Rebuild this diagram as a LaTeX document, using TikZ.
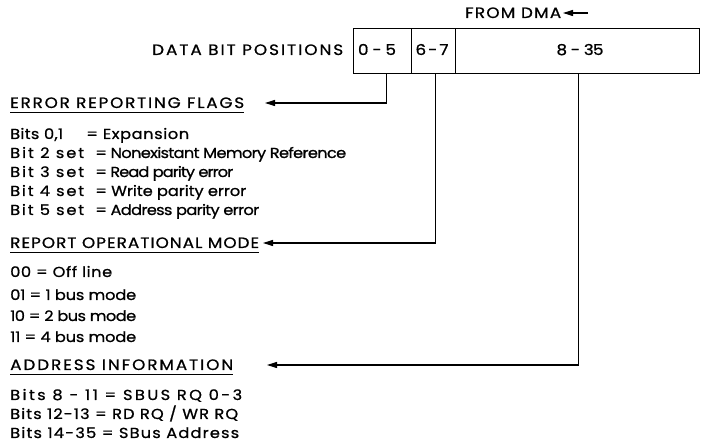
\documentclass[tikz,border=0pt]{standalone}
\usepackage{fontspec}
\usepackage{graphicx}
\setmainfont{Poppins}[FakeBold=0.8]
\usetikzlibrary{arrows.meta}
\newcommand\fitto[2]{%
  \setbox0=\hbox{#2}%
  \setbox2=\hbox{\addfontfeatures{LetterSpace=10}#2}%
  \pgfmathsetmacro\myls{10*(#1/1.12-\the\wd0)/(\the\wd2-\the\wd0)}%
  \scalebox{1.12}[1]{\addfontfeatures{LetterSpace=\myls}#2}}
\begin{document}
\begin{tikzpicture}[x=1pt,y=-1pt,
  txt/.style={anchor=base west,inner sep=0pt,font=\fontsize{14.5}{16}\selectfont},
  captxt/.style={anchor=base west,inner sep=0pt,font=\fontsize{15}{17}\selectfont},
  ctr/.style={anchor=base,inner sep=0pt,font=\fontsize{15}{17}\selectfont},
  conn/.style={line width=1.1pt,-{Triangle[length=10pt,width=6pt]}},
  uline/.style={line width=1.3pt},
  cell/.style={draw,line width=1.2pt,minimum height=45pt,inner sep=0pt,anchor=north west}]
\useasboundingbox (0,0) rectangle (702,446);
% top
\node[captxt] (dma) at (465,18) {\fitto{96pt}{FROM DMA}};
\coordinate (dmaend) at (588,13);
\coordinate (dmatip) at (563,13);
\draw[conn] (dmaend) -- (dmatip);
\node[captxt] (dbp) at (152,55) {\fitto{191pt}{DATA BIT POSITIONS}};
\node[cell,minimum width=58pt] (c05) at (353,28) {};
\node[cell,minimum width=44pt] (c67) at (411,28) {};
\node[cell,minimum width=244pt] (c835) at (455,28) {};
\node[ctr] (l05) at (377,55) {\fitto{38pt}{0-5}};
\node[ctr] (l67) at (432,55) {\fitto{33pt}{6-7}};
\node[ctr] (l835) at (580,55) {\fitto{47pt}{8 - 35}};
% headers
\node[captxt] (herr) at (10,108) {\fitto{234pt}{ERROR REPORTING FLAGS}};
\node[captxt] (hrep) at (10,248) {\fitto{249pt}{REPORT OPERATIONAL MODE}};
\node[captxt] (hadr) at (10,370) {\fitto{223pt}{ADDRESS INFORMATION}};
\foreach \h in {herr,hrep,hadr}
  \draw[uline] ([yshift=-4.5pt]\h.base west) -- ([yshift=-4.5pt]\h.base east);
% connectors
\coordinate (terr) at (265,103);
\coordinate (trep) at (263,243);
\coordinate (tadr) at (267,365);
\draw[conn] ([xshift=4pt]c05.south) |- (terr);
\draw[conn] ([xshift=2pt]c67.south) |- (trep);
\draw[conn] ([xshift=1pt]c835.south) |- (tadr);
% error flags
\node[txt] (b01) at (10,139) {\fitto{53pt}{Bits 0,1}};
\node[txt] (b01e) at (86,139) {\fitto{103pt}{= Expansion}};
\node[txt] (b2) at (10,158) {\fitto{74pt}{Bit 2 set}};
\node[txt] (b2e) at (95,158) {\fitto{251pt}{= Nonexistant Memory Reference}};
\node[txt] (b3) at (10,177) {\fitto{74pt}{Bit 3 set}};
\node[txt] (b3e) at (95,177) {\fitto{138pt}{= Read parity error}};
\node[txt] (b4) at (10,196) {\fitto{74pt}{Bit 4 set}};
\node[txt] (b4e) at (95,196) {\fitto{151pt}{= Write parity error}};
\node[txt] (b5) at (10,215) {\fitto{74pt}{Bit 5 set}};
\node[txt] (b5e) at (95,215) {\fitto{164pt}{= Address parity error}};
% modes
\node[txt] (m0) at (10,277) {\fitto{102pt}{00 = Off line}};
\node[txt] (m1) at (10,300) {\fitto{126pt}{01 = 1 bus mode}};
\node[txt] (m2) at (10,321) {\fitto{126pt}{10 = 2 bus mode}};
\node[txt] (m3) at (10,342) {\fitto{126pt}{11 = 4 bus mode}};
% address
\node[txt] (a1) at (10,400) {\fitto{232pt}{Bits 8 - 11 = SBUS RQ 0-3}};
\node[txt] (a2) at (10,419) {\fitto{228pt}{Bits 12-13 = RD RQ / WR RQ}};
\node[txt] (a3) at (10,438) {\fitto{229pt}{Bits 14-35 = SBus Address}};
\end{tikzpicture}
\end{document}
